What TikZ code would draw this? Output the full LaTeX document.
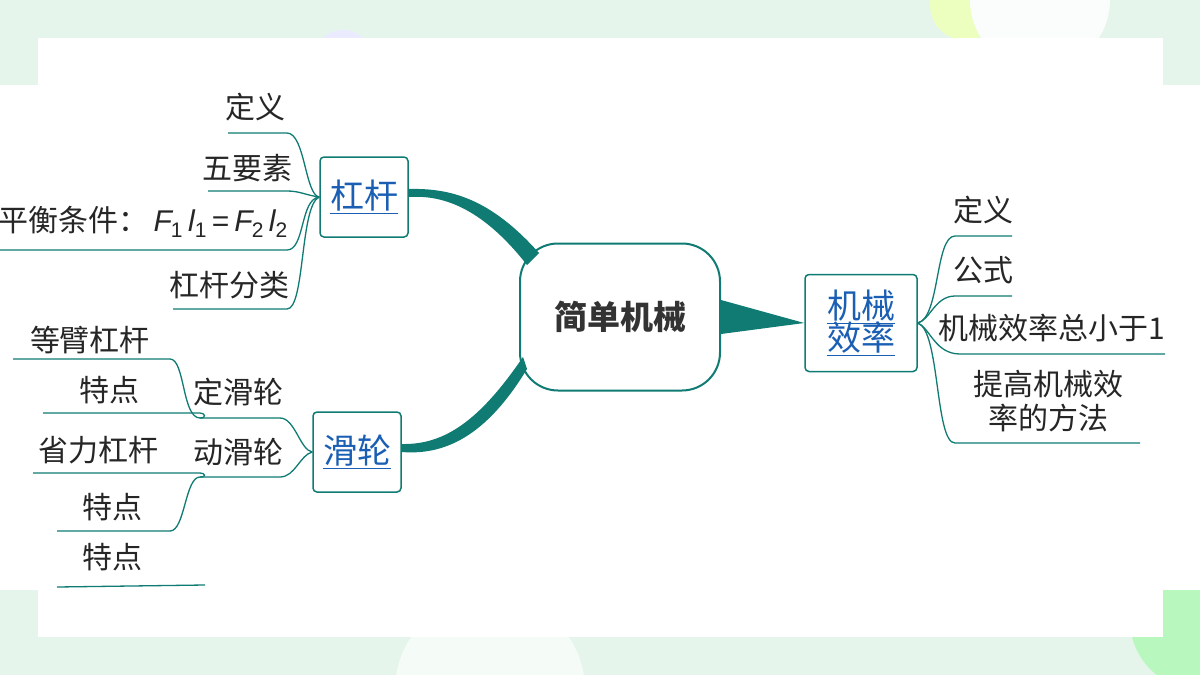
\documentclass[tikz,border=0pt]{standalone}
\usepackage{fontspec}
\setmainfont{Noto Sans CJK SC}
\newfontfamily\lat{Liberation Sans}
\definecolor{teal1}{HTML}{0F7B73}
\definecolor{mint}{HTML}{E6F5EC}
\definecolor{linkb}{HTML}{1A5FB4}
\begin{document}
\begin{tikzpicture}[x=1pt,y=-1pt,
  lbl/.style={font=\fontsize{30}{34}\selectfont, text=black!85, inner sep=0pt},
  box/.style={draw=teal1, line width=1.5pt, rounded corners=4pt, fill=white, minimum width=88pt, minimum height=80pt, align=center, font=\fontsize{34}{38}\selectfont, text=linkb},
  br/.style={draw=teal1, line width=1.3pt}]
\useasboundingbox (0,0) rectangle (1200,675);
\fill[mint] (0,0) rectangle (1200,675);
\fill[green!30!yellow!25] (965,5) circle (35);
\fill[white!85!mint] (1040,0) circle (70);
\fill[blue!8] (343,60) circle (30);
\fill[white!60!mint] (490,690) circle (95);
\fill[green!20!mint] (1200,620) circle (70);
\fill[white] (38,38) rectangle (1163,637);
\fill[white] (0,85) rectangle (1200,590);
% center
\node[draw=teal1, line width=2pt, rounded corners=38pt, fill=white, minimum width=200pt, minimum height=147pt, font=\fontsize{33}{38}\selectfont\bfseries, text=black!80] (c) at (620,317) {简单机械};
\node[box] (g) at (364,197) {\underline{杠杆}};
\node[box] (h) at (357,452) {\underline{滑轮}};
\node[box, minimum width=112pt, minimum height=97pt] (j) at (861,323) {\underline{机械}\\[-6pt]\underline{效率}};
% thick branches
\fill[teal1] (c.west) ++(8,-52) .. controls (480,205) and (440,195) .. (g.east) -- ++(0,-8) .. controls (450,188) and (490,198) .. ([shift={(20,-64)}]c.west) -- cycle;
\fill[teal1] (c.west) ++(8,52) .. controls (490,430) and (450,456) .. (h.east) -- ++(0,-8) .. controls (445,445) and (480,420) .. ([shift={(4,40)}]c.west) -- cycle;
\fill[teal1] ([yshift=-17]c.east) -- (j.west) -- ([yshift=17]c.east) -- cycle;
% lever labels
\node[lbl] (a1) at (255,107) {定义};
\node[lbl] (a2) at (247,168) {五要素};
\node[lbl, anchor=east] (a3) at (288,222) {平衡条件：\,{\lat\itshape F\kern-1pt\textsubscript{\upshape 1}\,l\textsubscript{\upshape 1}\,\upshape =\,\itshape F\kern-1pt\textsubscript{\upshape 2}\,l\textsubscript{\upshape 2}}};
\node[lbl] (a4) at (229,285) {杠杆分类};
\coordinate (gp) at (g.west);
\draw[br] (228,133) -- (287,133) .. controls (305,133) and (305,195) .. (gp);
\draw[br] (208,191) -- (287,191) .. controls (300,191) and (305,195) .. (gp);
\draw[br] (0,250) -- (287,250) .. controls (305,250) and (300,199) .. (gp);
\draw[br] (173,309) -- (287,309) .. controls (305,309) and (300,205) .. (gp);
% pulley
\node[lbl] (b1) at (238,392) {定滑轮};
\node[lbl] (b2) at (238,452) {动滑轮};
\node[lbl] (b3) at (90,340) {等臂杠杆};
\node[lbl] (b4) at (109,390) {特点};
\node[lbl] (b5) at (98,450) {省力杠杆};
\node[lbl] (b6) at (112,507) {特点};
\node[lbl] (b7) at (112,557) {特点};
\coordinate (hp) at (h.west);
\coordinate (d1) at (200,418);
\coordinate (d2) at (200,477);
\draw[br] (d1) -- (280,418) .. controls (295,418) and (300,450) .. (hp);
\draw[br] (d2) -- (280,477) .. controls (295,477) and (300,455) .. (hp);
\draw[br] (13,359) -- (170,359) .. controls (185,359) and (182,418) .. (d1);
\draw[br] (43,413) -- (200,413) .. controls (205,413) and (207,418) .. (d1);
\draw[br] (33,473) -- (200,473) .. controls (205,473) and (207,477) .. (d2);
\draw[br] (57,531) -- (170,531) .. controls (185,531) and (185,477) .. (d2);
\draw[br] (57,587) -- (205,585);
% efficiency
\node[lbl] (e1) at (983,210) {定义};
\node[lbl] (e2) at (983,270) {公式};
\node[lbl] (e3) at (1052,328) {机械效率总小于1};
\node[lbl, align=center] (e4) at (1048,401) {提高机械效\\率的方法};
\coordinate (jp) at (j.east);
\draw[br] (1012,236) -- (955,236) .. controls (935,236) and (940,318) .. (jp);
\draw[br] (1012,296) -- (955,296) .. controls (935,296) and (930,320) .. (jp);
\draw[br] (1165,354) -- (960,354) .. controls (935,354) and (930,328) .. (jp);
\draw[br] (1140,443) -- (955,443) .. controls (935,443) and (940,330) .. (jp);
\end{tikzpicture}
\end{document}
